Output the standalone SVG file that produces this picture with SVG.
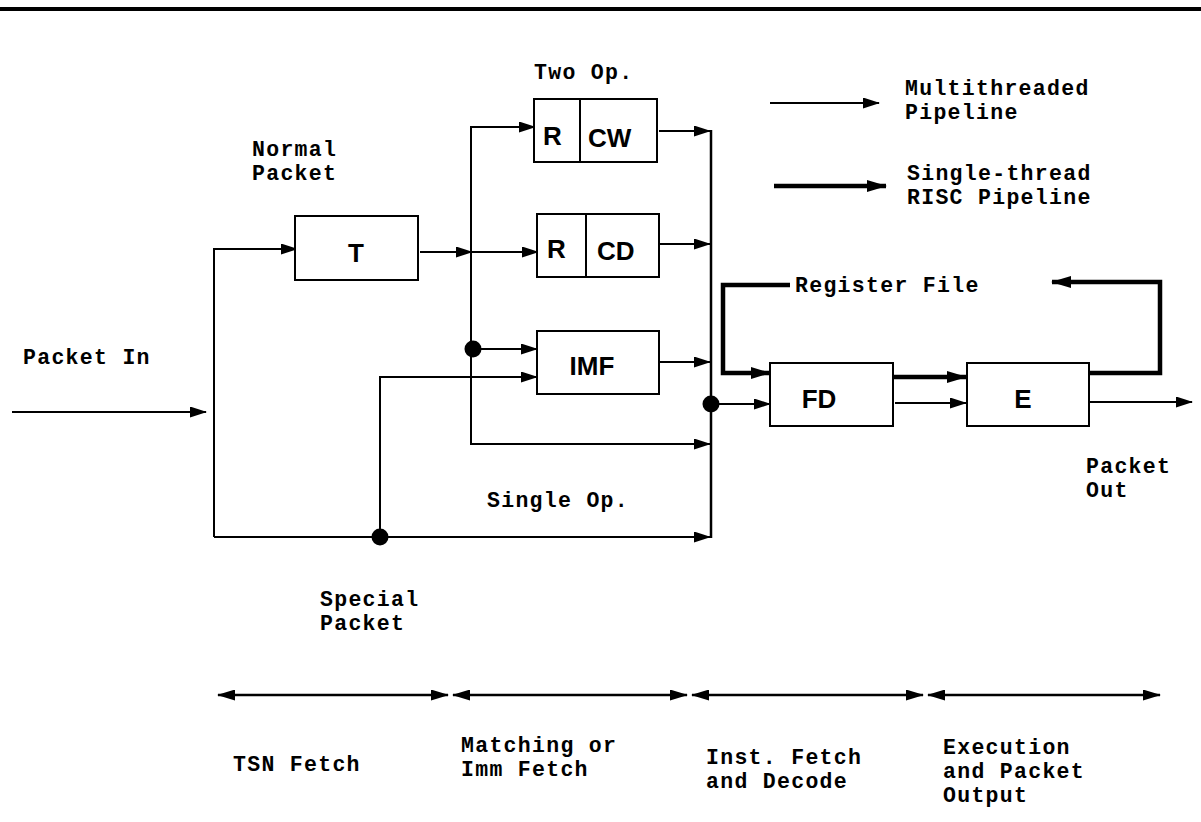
<svg xmlns="http://www.w3.org/2000/svg" width="1201" height="822" viewBox="0 0 1201 822">
<style>
.lbl{font-family:"Liberation Mono","Courier New",monospace;font-weight:bold;font-size:21.5px;letter-spacing:1.3px;fill:#000}
.box{fill:#fff;stroke:#000;stroke-width:2}
.bl{font-family:"Liberation Sans",Arial,sans-serif;font-weight:bold;font-size:26px;fill:#000}
.thin{fill:none;stroke:#000;stroke-width:2}
.thick{fill:none;stroke:#000;stroke-width:4.5}
.dbl{fill:none;stroke:#000;stroke-width:2.5}
</style>
<defs>
<marker id="a" markerUnits="userSpaceOnUse" markerWidth="17" markerHeight="11" refX="16" refY="5.5" orient="auto"><path d="M0,0 L17,5.5 L0,11 z" fill="#000"/></marker>
<marker id="b" markerUnits="userSpaceOnUse" markerWidth="20" markerHeight="12" refX="19" refY="6" orient="auto"><path d="M0,0 L20,6 L0,12 z" fill="#000"/></marker>
<marker id="d" markerUnits="userSpaceOnUse" markerWidth="18" markerHeight="11" refX="17" refY="5.5" orient="auto-start-reverse"><path d="M0,0 L18,5.5 L0,11 z" fill="#000"/></marker>
</defs>
<rect width="1201" height="822" fill="#fff"/>
<path d="M0,9 H1201" stroke="#000" stroke-width="4"/>

<g id="connectors">
<path class="thin" d="M12,412 H206" marker-end="url(#a)"/>
<path class="thin" d="M214,537 V249 H297" marker-end="url(#a)"/>
<path class="thin" d="M214,537 H710" marker-end="url(#a)"/>
<path class="thin" d="M420,252 H472" marker-end="url(#a)"/>
<path class="thin" d="M471,252 H538" marker-end="url(#a)"/>
<path class="thin" d="M471,252 V127 H535" marker-end="url(#a)"/>
<path class="thin" d="M471,252 V444 H710" marker-end="url(#a)"/>
<path class="thin" d="M473,349 H537" marker-end="url(#a)"/>
<path class="thin" d="M380,537 V377 H537" marker-end="url(#a)"/>
<path class="thin" d="M659,131 H710" marker-end="url(#a)"/>
<path class="thin" d="M660,244 H710" marker-end="url(#a)"/>
<path class="thin" d="M660,362 H710" marker-end="url(#a)"/>
<path d="M711,130 V538" stroke="#000" stroke-width="2.5" fill="none"/>
<path class="thin" d="M711,404 H770" marker-end="url(#a)"/>
<path class="thick" d="M790,285 H723 V373 H770" marker-end="url(#b)"/>
<path class="thick" d="M893,377 H966" marker-end="url(#b)"/>
<path class="thin" d="M895,403 H966" marker-end="url(#a)"/>
<path class="thin" d="M1090,402 H1192" marker-end="url(#a)"/>
<path class="thick" d="M1090,373 H1160 V282 H1052" marker-end="url(#b)"/>
<path class="thin" d="M770,103 H879" marker-end="url(#a)"/>
<path class="thick" d="M774,186 H886" marker-end="url(#b)"/>
<path class="dbl" d="M218,695 H448" marker-start="url(#d)" marker-end="url(#d)"/>
<path class="dbl" d="M453,695 H687" marker-start="url(#d)" marker-end="url(#d)"/>
<path class="dbl" d="M692,695 H923" marker-start="url(#d)" marker-end="url(#d)"/>
<path class="dbl" d="M928,695 H1160" marker-start="url(#d)" marker-end="url(#d)"/>
<circle cx="473" cy="349" r="8.5" fill="#000"/>
<circle cx="380" cy="537" r="8.5" fill="#000"/>
<circle cx="711" cy="404" r="8.5" fill="#000"/>
</g>

<g id="node-T">
<rect class="box" x="295" y="216" width="123" height="64"/>
<text class="bl" x="356" y="262" text-anchor="middle">T</text>
</g>
<g id="node-CW">
<rect class="box" x="534" y="99" width="123" height="63"/>
<path d="M580,99 V162" stroke="#000" stroke-width="2"/>
<text class="bl" x="543" y="145">R</text>
<text class="bl" x="588" y="147">CW</text>
</g>
<g id="node-CD">
<rect class="box" x="537" y="214" width="122" height="63"/>
<path d="M586,214 V277" stroke="#000" stroke-width="2"/>
<text class="bl" x="547" y="258">R</text>
<text class="bl" x="597" y="260">CD</text>
</g>
<g id="node-IMF">
<rect class="box" x="537" y="331" width="122" height="63"/>
<text class="bl" x="592" y="375" text-anchor="middle">IMF</text>
</g>
<g id="node-FD">
<rect class="box" x="770" y="363" width="123" height="63"/>
<text class="bl" x="819" y="408" text-anchor="middle">FD</text>
</g>
<g id="node-E">
<rect class="box" x="967" y="363" width="122" height="63"/>
<text class="bl" x="1023" y="408" text-anchor="middle">E</text>
</g>

<g id="labels">
<text class="lbl" x="252" y="156">Normal</text>
<text class="lbl" x="252" y="180">Packet</text>
<text class="lbl" x="534" y="79">Two Op.</text>
<text class="lbl" x="23" y="364">Packet In</text>
<text class="lbl" x="487" y="507">Single Op.</text>
<text class="lbl" x="320" y="606">Special</text>
<text class="lbl" x="320" y="630">Packet</text>
<text class="lbl" x="795" y="292">Register File</text>
<text class="lbl" x="905" y="95">Multithreaded</text>
<text class="lbl" x="905" y="119">Pipeline</text>
<text class="lbl" x="907" y="180">Single-thread</text>
<text class="lbl" x="907" y="204">RISC Pipeline</text>
<text class="lbl" x="1086" y="473">Packet</text>
<text class="lbl" x="1086" y="497">Out</text>
<text class="lbl" x="233" y="771">TSN Fetch</text>
<text class="lbl" x="461" y="752">Matching or</text>
<text class="lbl" x="461" y="776">Imm Fetch</text>
<text class="lbl" x="706" y="764">Inst. Fetch</text>
<text class="lbl" x="706" y="788">and Decode</text>
<text class="lbl" x="943" y="754">Execution</text>
<text class="lbl" x="943" y="778">and Packet</text>
<text class="lbl" x="943" y="802">Output</text>
</g>
</svg>
